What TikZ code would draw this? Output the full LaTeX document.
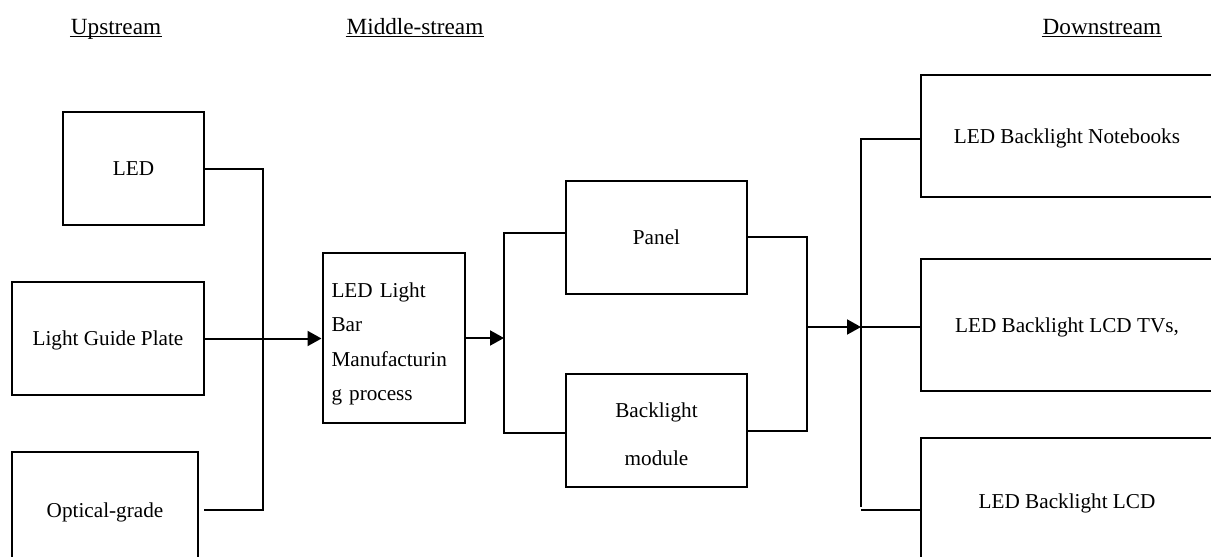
\documentclass[tikz,border=0pt]{standalone}
\usepackage{fontspec}
\setmainfont{Liberation Serif}
\usetikzlibrary{arrows.meta}

\begin{document}
\begin{tikzpicture}[x=0.5pt,y=-0.5pt,line width=1pt,
  >={Triangle[length=7pt,width=7.5pt]},
  box/.style={draw,rectangle,inner sep=0pt,font=\fontsize{10.6}{13}\selectfont},
  cell/.style={box,text depth=0pt},
  head/.style={inner sep=0pt,font=\fontsize{11.6}{14}\selectfont}]
\useasboundingbox (0,0) rectangle (1211,557);
\clip (0,0) rectangle (1211,557);
% headings
\node[head,anchor=base] (up) at (116,34) {Upstream};
\node[head,anchor=base] (mid) at (415,34) {Middle-stream};
\node[head,anchor=base] (down) at (1102,34) {Downstream};
\foreach \h in {up,mid,down}
  \draw[line width=0.75pt] ([yshift=-1.2pt]\h.base west)--([yshift=-1.2pt]\h.base east);
% upstream
\node[cell,minimum width=70.5pt,minimum height=56.5pt] (led) at (133.5,168.5) {LED};
\node[cell,minimum width=96pt,minimum height=56.5pt] (lgp) at (108,338.5) {Light Guide Plate};
\node[cell,minimum width=93pt,minimum height=58pt] (ogr) at (105,510) {Optical-grade};
% middle-stream
\node[box,text width=62pt,inner xsep=4.5pt,minimum height=85pt,align=left,text height=13.2pt,
  font=\fontsize{10.6}{17.3}\selectfont] (bar) at (393.5,338) {LED Light\\Bar\\Manufacturin\\g process};
\node[cell,minimum width=90.5pt,minimum height=56.5pt] (pan) at (656.5,237.5) {Panel};
\node[box,text width=80pt,inner xsep=5.25pt,minimum height=56.5pt,align=center,text height=11.2pt,
  font=\fontsize{10.6}{24}\selectfont] (blm) at (656.5,430.5) {Backlight\\module};
% downstream
\node[cell,minimum width=146pt,minimum height=61pt] (nb) at (1067,136) {LED Backlight Notebooks};
\node[cell,minimum width=146pt,minimum height=66pt] (tv) at (1067,325) {LED Backlight LCD TVs,};
\node[cell,minimum width=146pt,minimum height=63pt] (lcd) at (1067,501) {LED Backlight LCD};
% buses
\coordinate (b1b) at (263,510);
\coordinate (b2t) at (504,233);
\coordinate (b2b) at (504,433);
\coordinate (b3t) at (807,237);
\coordinate (b3m) at (807,327);
\coordinate (b3b) at (807,431);
\coordinate (b4t) at (861,139);
\coordinate (b4m) at (861,327);
\coordinate (b4b) at (861,507);
\coordinate (b4e) at (861,510);
\draw (led.east)-|(b1b)--([xshift=2.5pt]ogr.east);
\draw[->] (lgp.east)--(lgp.east-|bar.west);
\draw[->] (bar.east)--(bar.east-|b2t);
\draw (pan.west|-b2t)--(b2t)--(b2b)--(b2b-|blm.west);
\draw (pan.east|-b3t)--(b3t)--(b3b)--(b3b-|blm.east);
\draw[->] (b3m)--(b4m);
\draw (nb.west|-b4t)--(b4t)--(b4b);
\draw (b4m)--(b4m-|tv.west);
\draw (b4e)--(b4e-|lcd.west);
\end{tikzpicture}
\end{document}
